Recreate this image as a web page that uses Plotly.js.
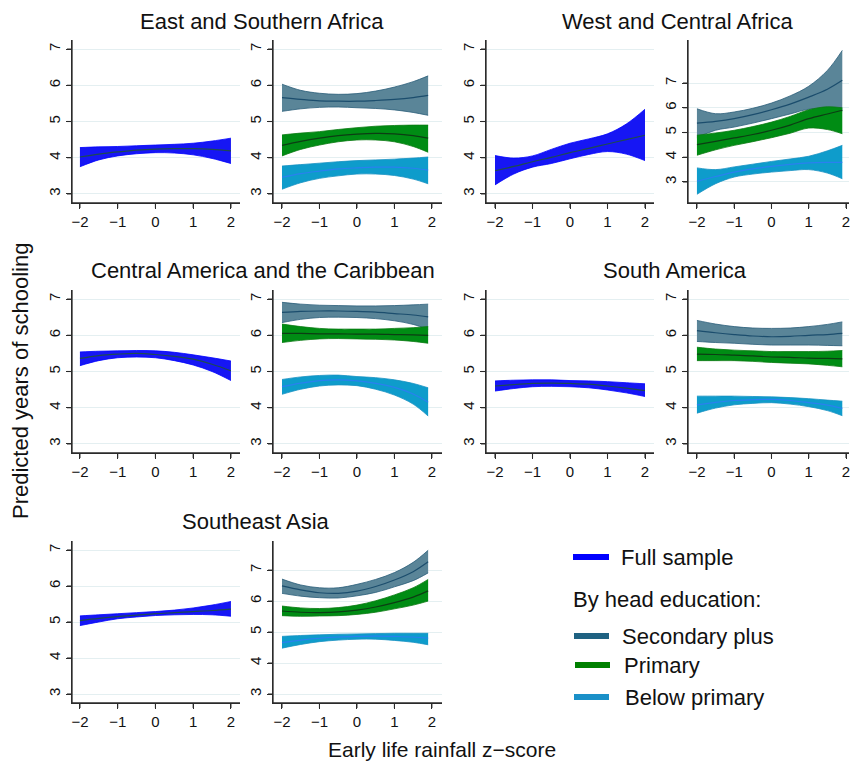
<!DOCTYPE html>
<html><head><meta charset="utf-8">
<script src="https://cdn.plot.ly/plotly-3.0.1.min.js"></script>
<style>html,body{margin:0;padding:0;background:#fff}#chart{width:850px;height:763px}</style>
</head><body><div id="chart"></div>
<script>
// ---- data ----
const xFull = [-2,-1.5,-1,-0.5,0,0.5,1,1.5,2];
const xEdu  = [-2,-1.5,-1,-0.5,0,0.5,1,1.5,1.9];
const xTicks = [-2,-1,0,1,2];
const yTicks = [3,4,5,6,7];
const panelTitles = ["East and Southern Africa","West and Central Africa","Central America and the Caribbean","South America","Southeast Asia"];
const legendLabels = ["Full sample","By head education:","Secondary plus","Primary","Below primary"];

// East and Southern Africa
const eaFullMid = [4.02,4.10,4.16,4.21,4.24,4.25,4.25,4.23,4.19];
const eaFullHi  = [4.28,4.30,4.31,4.33,4.35,4.37,4.40,4.46,4.54];
const eaFullLo  = [3.75,3.94,4.05,4.11,4.14,4.13,4.08,3.98,3.84];
const eaSecMid = [5.66,5.61,5.57,5.56,5.56,5.58,5.61,5.66,5.72];
const eaSecHi  = [6.03,5.86,5.78,5.75,5.77,5.84,5.95,6.10,6.26];
const eaSecLo  = [5.28,5.35,5.39,5.40,5.38,5.36,5.32,5.25,5.17];
const eaPriMid = [4.34,4.45,4.54,4.61,4.65,4.67,4.66,4.61,4.54];
const eaPriHi  = [4.63,4.68,4.72,4.78,4.83,4.87,4.89,4.90,4.90];
const eaPriLo  = [4.05,4.23,4.35,4.44,4.49,4.49,4.44,4.31,4.15];
const eaBelMid = [3.46,3.56,3.63,3.69,3.72,3.74,3.74,3.71,3.66];
const eaBelHi  = [3.77,3.81,3.85,3.89,3.92,3.94,3.96,3.99,4.02];
const eaBelLo  = [3.13,3.31,3.43,3.50,3.55,3.55,3.51,3.41,3.28];

// West and Central Africa
const waFullMid = [3.64,3.76,3.89,4.01,4.14,4.26,4.38,4.50,4.62];
const waFullHi  = [4.06,3.99,4.05,4.23,4.40,4.52,4.66,4.93,5.34];
const waFullLo  = [3.25,3.55,3.74,3.84,3.97,4.09,4.17,4.10,3.92];
const waSecMid = [5.38,5.45,5.56,5.72,5.92,6.15,6.43,6.75,7.11];
const waSecHi  = [5.96,5.76,5.83,5.98,6.19,6.48,6.87,7.51,8.32];
const waSecLo  = [4.79,5.09,5.22,5.38,5.56,5.75,5.94,5.95,5.87];
const waPriMid = [4.51,4.64,4.78,4.92,5.09,5.30,5.56,5.75,5.90];
const waPriHi  = [4.89,4.98,5.09,5.24,5.42,5.65,5.92,6.04,6.00];
const waPriLo  = [4.08,4.30,4.48,4.63,4.79,4.97,5.18,5.12,4.95];
const waBelMid = [3.03,3.22,3.40,3.53,3.63,3.71,3.77,3.79,3.79];
const waBelHi  = [3.57,3.50,3.61,3.72,3.83,3.93,4.04,4.26,4.48];
const waBelLo  = [2.50,2.93,3.20,3.32,3.40,3.46,3.50,3.36,3.13];

// Central America and the Caribbean
const caFullMid = [5.36,5.44,5.48,5.50,5.47,5.42,5.34,5.20,5.02];
const caFullHi  = [5.54,5.56,5.57,5.58,5.57,5.53,5.46,5.38,5.29];
const caFullLo  = [5.16,5.30,5.38,5.40,5.38,5.30,5.18,5.00,4.75];
const caSecMid = [6.63,6.66,6.67,6.67,6.66,6.64,6.60,6.56,6.51];
const caSecHi  = [6.91,6.86,6.83,6.82,6.81,6.81,6.82,6.84,6.86];
const caSecLo  = [6.35,6.44,6.49,6.50,6.49,6.46,6.40,6.30,6.16];
const caPriMid = [6.05,6.05,6.04,6.04,6.03,6.03,6.02,6.01,6.00];
const caPriHi  = [6.31,6.24,6.19,6.17,6.17,6.17,6.19,6.21,6.24];
const caPriLo  = [5.80,5.86,5.90,5.91,5.90,5.89,5.87,5.83,5.78];
const caBelMid = [4.58,4.68,4.75,4.77,4.74,4.67,4.56,4.38,4.15];
const caBelHi  = [4.78,4.85,4.89,4.90,4.86,4.83,4.77,4.67,4.55];
const caBelLo  = [4.37,4.51,4.60,4.63,4.61,4.51,4.35,4.10,3.77];

// South America
const saFullMid = [4.60,4.64,4.67,4.68,4.67,4.65,4.60,4.54,4.47];
const saFullHi  = [4.74,4.76,4.77,4.77,4.75,4.74,4.72,4.69,4.66];
const saFullLo  = [4.46,4.53,4.58,4.59,4.58,4.55,4.49,4.41,4.31];
const saSecMid = [6.13,6.07,6.02,5.98,5.96,5.97,6.00,6.02,6.05];
const saSecHi  = [6.41,6.31,6.24,6.20,6.19,6.20,6.24,6.30,6.37];
const saSecLo  = [5.83,5.80,5.78,5.75,5.73,5.73,5.73,5.72,5.71];
const saPriMid = [5.48,5.47,5.45,5.43,5.40,5.39,5.37,5.36,5.35];
const saPriHi  = [5.67,5.62,5.59,5.57,5.55,5.55,5.55,5.56,5.58];
const saPriLo  = [5.30,5.30,5.30,5.28,5.25,5.23,5.21,5.17,5.13];
const saBelMid = [4.08,4.15,4.20,4.22,4.23,4.20,4.14,4.07,3.98];
const saBelHi  = [4.32,4.32,4.32,4.31,4.30,4.28,4.25,4.21,4.18];
const saBelLo  = [3.85,3.99,4.08,4.12,4.14,4.10,4.03,3.92,3.78];

// Southeast Asia
const seaFullMid = [5.04,5.10,5.15,5.19,5.23,5.26,5.29,5.32,5.36];
const seaFullHi  = [5.17,5.20,5.23,5.26,5.29,5.33,5.39,5.47,5.57];
const seaFullLo  = [4.90,5.00,5.09,5.14,5.18,5.20,5.21,5.20,5.16];
const seaSecMid = [6.49,6.36,6.27,6.25,6.32,6.47,6.68,6.95,7.27];
const seaSecHi  = [6.71,6.52,6.43,6.43,6.54,6.70,6.92,7.25,7.64];
const seaSecLo  = [6.25,6.16,6.11,6.10,6.17,6.28,6.46,6.66,6.91];
const seaPriMid = [5.68,5.64,5.63,5.65,5.71,5.81,5.95,6.13,6.33];
const seaPriHi  = [5.84,5.78,5.76,5.79,5.87,6.01,6.20,6.43,6.70];
const seaPriLo  = [5.53,5.51,5.52,5.53,5.57,5.64,5.75,5.87,6.00];
const seaBelMid = [4.66,4.74,4.80,4.84,4.86,4.87,4.86,4.84,4.80];
const seaBelHi  = [4.86,4.89,4.91,4.93,4.94,4.95,4.96,4.96,4.96];
const seaBelLo  = [4.48,4.60,4.69,4.74,4.77,4.77,4.73,4.67,4.59];

// ---- styles ----
const W = 850, H = 763;
const FONT = "Liberation Sans, Arial, sans-serif";
const AXC = "#2b2b2b";
const styles = {
  full: {fill:"#1616f4", edge:"#0000ff", mid:"#1e4a52", leg:"#0000ff"},
  sec:  {fill:"#5a8598", edge:"#2a5d78", mid:"#1b4d6d", leg:"#1f6282"},
  pri:  {fill:"#008c14", edge:"#0a7a12", mid:"#0c3d14", leg:"#008000"},
  bel:  {fill:"#0e9ccb", edge:"#1791c2", mid:"#2a80f0", leg:"#1a90c8"}
};

const cols = [
  {l:72,  r:240, range:[-2.21,2.24]},
  {l:273, r:442, range:[-2.24,2.27]},
  {l:486, r:654, range:[-2.24,2.24]},
  {l:688, r:849, range:[-2.24,2.08]}
];
const rows = [{t:40,b:203},{t:290,b:453},{t:541,b:703}];

const panels = [
  {row:0,col:0,yr:[2.75,7.25],bands:[["full",xFull,eaFullLo,eaFullHi,eaFullMid]]},
  {row:0,col:1,yr:[2.75,7.25],bands:[["sec",xEdu,eaSecLo,eaSecHi,eaSecMid],["pri",xEdu,eaPriLo,eaPriHi,eaPriMid],["bel",xEdu,eaBelLo,eaBelHi,eaBelMid]]},
  {row:0,col:2,yr:[2.75,7.25],bands:[["full",xFull,waFullLo,waFullHi,waFullMid]]},
  {row:0,col:3,yr:[2.15,8.74],bands:[["sec",xEdu,waSecLo,waSecHi,waSecMid],["pri",xEdu,waPriLo,waPriHi,waPriMid],["bel",xEdu,waBelLo,waBelHi,waBelMid]]},
  {row:1,col:0,yr:[2.75,7.25],bands:[["full",xFull,caFullLo,caFullHi,caFullMid]]},
  {row:1,col:1,yr:[2.75,7.25],bands:[["sec",xEdu,caSecLo,caSecHi,caSecMid],["pri",xEdu,caPriLo,caPriHi,caPriMid],["bel",xEdu,caBelLo,caBelHi,caBelMid]]},
  {row:1,col:2,yr:[2.75,7.25],bands:[["full",xFull,saFullLo,saFullHi,saFullMid]]},
  {row:1,col:3,yr:[2.75,7.25],bands:[["sec",xEdu,saSecLo,saSecHi,saSecMid],["pri",xEdu,saPriLo,saPriHi,saPriMid],["bel",xEdu,saBelLo,saBelHi,saBelMid]]},
  {row:2,col:0,yr:[2.75,7.25],bands:[["full",xFull,seaFullLo,seaFullHi,seaFullMid]]},
  {row:2,col:1,yr:[2.71,7.94],bands:[["sec",xEdu,seaSecLo,seaSecHi,seaSecMid],["pri",xEdu,seaPriLo,seaPriHi,seaPriMid],["bel",xEdu,seaBelLo,seaBelHi,seaBelMid]]}
];

const traces = [];
const layout = {
  width:W, height:H, margin:{l:0,r:0,t:0,b:0},
  showlegend:false, font:{family:FONT, color:"#111"},
  annotations:[], shapes:[]
};

function px(v){ return v / W; }
function py(v){ return 1 - v / H; }

panels.forEach((p,i)=>{
  const n = i===0 ? "" : String(i+1);
  const xa = "x"+n, ya = "y"+n;
  const c = cols[p.col], r = rows[p.row];
  layout["xaxis"+n] = {
    domain:[c.l/W, c.r/W], range:c.range, anchor:ya,
    tickvals:xTicks, ticks:"outside", ticklen:5, tickcolor:AXC, tickwidth:1.2,
    showline:true, linecolor:AXC, linewidth:1.2, showgrid:false, zeroline:false,
    ticklabeloverflow:"allow",
    tickfont:{size:15, color:"#111", family:FONT}
  };
  layout["yaxis"+n] = {
    domain:[1-r.b/H, 1-r.t/H], range:p.yr, anchor:xa,
    tickvals:yTicks, ticks:"outside", ticklen:5, tickcolor:AXC, tickwidth:1.2,
    showline:true, linecolor:AXC, linewidth:1.2, showgrid:true, gridcolor:"#e4eff1", gridwidth:1,
    zeroline:false, tickangle:-90, tickfont:{size:15, color:"#111", family:FONT}
  };
  // axis frame (not data): lines and tick marks placed in paper space from the axis geometry
  layout.shapes.push({type:"line", xref:"paper", yref:"paper", x0:px(c.l), x1:px(c.r), y0:py(r.b), y1:py(r.b), line:{color:AXC, width:1.3}});
  layout.shapes.push({type:"line", xref:"paper", yref:"paper", x0:px(c.l), x1:px(c.l), y0:py(r.b), y1:py(r.t), line:{color:AXC, width:1.3}});
  xTicks.forEach(v=>{
    if (v > c.range[1]) return;
    const xp = c.l + (v - c.range[0]) / (c.range[1] - c.range[0]) * (c.r - c.l);
    layout.shapes.push({type:"line", xref:"paper", yref:"paper", x0:px(xp), x1:px(xp), y0:py(r.b), y1:py(r.b+5), line:{color:AXC, width:1.1}});
  });
  yTicks.forEach(v=>{
    const yp = r.b - (v - p.yr[0]) / (p.yr[1] - p.yr[0]) * (r.b - r.t);
    layout.shapes.push({type:"line", xref:"paper", yref:"paper", x0:px(c.l-5), x1:px(c.l), y0:py(yp), y1:py(yp), line:{color:AXC, width:1.1}});
  });
  p.bands.forEach(b=>{
    const s = styles[b[0]];
    traces.push({x:b[1], y:b[2], xaxis:xa, yaxis:ya, mode:"lines", line:{color:s.edge,width:0.8,shape:"spline"}, hoverinfo:"skip"});
    traces.push({x:b[1], y:b[3], xaxis:xa, yaxis:ya, mode:"lines", fill:"tonexty", fillcolor:s.fill, line:{color:s.edge,width:0.8,shape:"spline"}, hoverinfo:"skip"});
    traces.push({x:b[1], y:b[4], xaxis:xa, yaxis:ya, mode:"lines", line:{color:s.mid,width:1.2,shape:"spline"}, hoverinfo:"skip"});
  });
});

// panel titles
const titlePos = [[262,22],[677,22],[263,270],[675,270],[256,521]];
panelTitles.forEach((t,i)=>{
  layout.annotations.push({text:t, x:titlePos[i][0]/W, y:1-titlePos[i][1]/H, xref:"paper", yref:"paper",
    xanchor:"center", yanchor:"middle", showarrow:false, font:{size:22, color:"#111", family:FONT}});
});
// axis titles
layout.annotations.push({text:"Predicted years of schooling", x:20/W, y:1-381/H, xref:"paper", yref:"paper",
  textangle:-90, xanchor:"center", yanchor:"middle", showarrow:false, font:{size:22,color:"#111",family:FONT}});
layout.annotations.push({text:"Early life rainfall z\u2212score", x:442/W, y:1-749/H, xref:"paper", yref:"paper",
  xanchor:"center", yanchor:"middle", showarrow:false, font:{size:21,color:"#111",family:FONT}});

// legend (drawn in paper space)
const legItems = [
  {label:legendLabels[0], color:styles.full.leg, y:557, lx0:573, lx1:609, tx:619},
  {label:legendLabels[1], color:null, y:599, tx:571},
  {label:legendLabels[2], color:styles.sec.leg, y:636, lx0:574, lx1:609, tx:620},
  {label:legendLabels[3], color:styles.pri.leg, y:665, lx0:575, lx1:610, tx:622},
  {label:legendLabels[4], color:styles.bel.leg, y:697, lx0:574, lx1:609, tx:623}
];
legItems.forEach(it=>{
  if (it.color) {
    layout.shapes.push({type:"line", xref:"paper", yref:"paper", x0:it.lx0/W, x1:it.lx1/W, y0:1-it.y/H, y1:1-it.y/H,
      line:{color:it.color, width:6}});
  }
  layout.annotations.push({text:it.label, x:it.tx/W, y:1-it.y/H, xref:"paper", yref:"paper",
    xanchor:"left", yanchor:"middle", showarrow:false, font:{size:22,color:"#111",family:FONT}});
});

Plotly.newPlot("chart", traces, layout, {displayModeBar:false});
</script>
</body></html>
